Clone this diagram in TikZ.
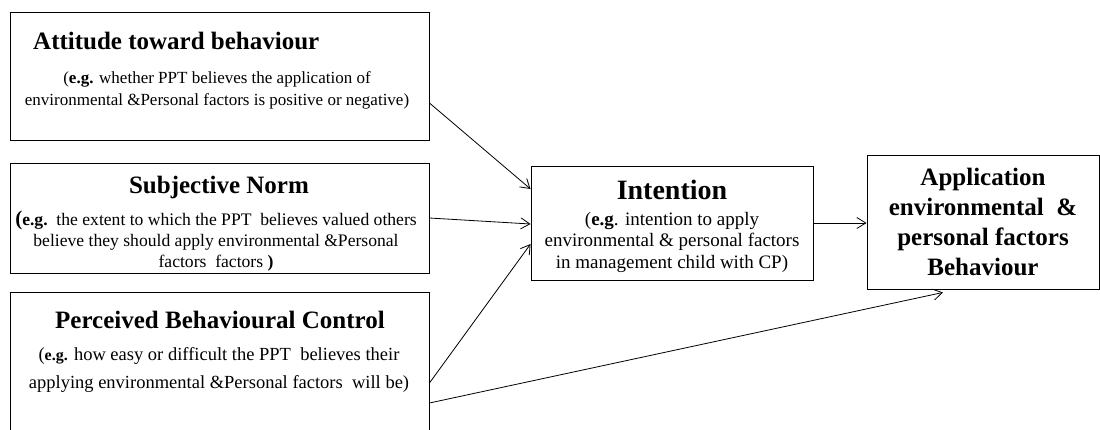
\documentclass[tikz,border=0pt]{standalone}
\usepackage{fontspec}
\setmainfont{Liberation Serif}
\usetikzlibrary{arrows.meta}

\tikzset{
  box/.style={draw=black, line width=0.9pt, rectangle, inner sep=0pt},
  title/.style={font=\fontsize{25}{30}\selectfont\bfseries, inner sep=0pt},
  body/.style={align=center, inner sep=0pt},
  link/.style={line width=0.8pt, -{Straight Barb[length=9pt,width=11pt]}}
}

\begin{document}
\begin{tikzpicture}[x=1pt, y=-1pt]
  \useasboundingbox (0,0) rectangle (1100,429);

  % frames
  \node[box, minimum width=419pt, minimum height=128pt] (att) at (219.5,76) {};
  \node[box, minimum width=419pt, minimum height=110pt] (sub) at (219.5,218) {};
  \node[box, minimum width=419pt, minimum height=150pt] (pbc) at (219.5,367) {};
  \node[box, minimum width=282pt, minimum height=114pt] (int) at (672,223) {};
  \node[box, minimum width=232pt, minimum height=134pt] (app) at (983,222) {};

  % attitude (multi-line nodes are placed by the baseline of their last line)
  \node[title, anchor=base west] (attT) at (33,49) {Attitude toward behaviour};
  \node[body, anchor=base, font=\fontsize{17}{22}\selectfont] (attB) at (217,105)
    {(\textbf{e.g.} whether PPT believes the application of\\
     environmental \&Personal factors is positive or negative)};

  % subjective norm
  \node[title, anchor=base] (subT) at (219,193) {Subjective Norm};
  \node[body, anchor=base, font=\fontsize{17.6}{21}\selectfont] (subB) at (216,267)
    {{\fontsize{21}{21}\selectfont\bfseries(}\textbf{e.g.}\ \ the extent to which the PPT\ \ believes valued others\\
     believe they should apply environmental \&Personal\\
     factors\ \ factors \textbf{)}};

  % perceived behavioural control
  \node[title, anchor=base] (pbcT) at (220,328) {Perceived Behavioural Control};
  \node[body, anchor=base, font=\fontsize{18.5}{28}\selectfont] (pbcB) at (219,388)
    {({\fontsize{16}{16}\selectfont\bfseries e.g.} how easy or difficult the PPT\ \ believes their\\
     applying environmental \&Personal factors\ \ will be)};

  % intention
  \node[anchor=base, inner sep=0pt, font=\fontsize{28}{30}\selectfont\bfseries] (intT) at (672,199) {Intention};
  \node[body, anchor=base, font=\fontsize{19}{21.5}\selectfont] (intB) at (672,268)
    {(\textbf{e.g}. intention to apply\\
     environmental \& personal factors\\
     in management child with CP)};

  % behaviour
  \node[body, anchor=base, font=\fontsize{25}{30}\selectfont\bfseries] (appT) at (983,275)
    {Application\\
     environmental\ \ \&\\
     personal factors\\
     Behaviour};

  % connectors
  \draw[link] ([yshift=-27pt]att.east) -- ([yshift=34pt]int.west);
  \draw[link] (sub.east) -- ([yshift=-1pt]int.west);
  \draw[link] ([yshift=-16pt]pbc.east) -- ([yshift=-21pt]int.west);
  \draw[link] ([yshift=-36pt]pbc.east) -- ([xshift=-40pt,yshift=-3pt]app.south);
  \draw[link] (int.east) -- (app.west |- int.east);
\end{tikzpicture}
\end{document}
